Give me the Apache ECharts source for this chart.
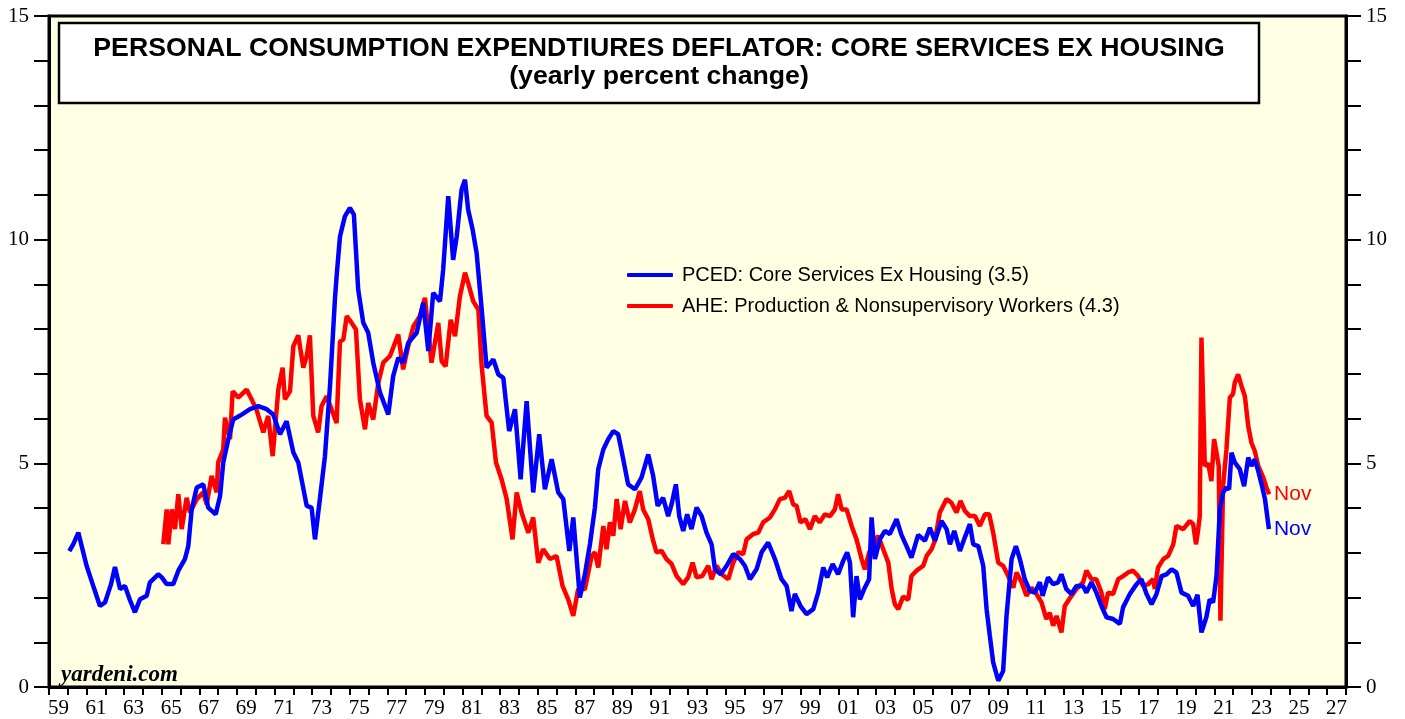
<!DOCTYPE html>
<html>
<head>
<meta charset="utf-8">
<title>PCED core services ex housing</title>
<script src="https://cdn.jsdelivr.net/npm/echarts@6/dist/echarts.min.js"></script>
<style>
  html, body { margin: 0; padding: 0; background: #fff; }
  #chart { width: 1405px; height: 719px; }
</style>
</head>
<body>
<div id="chart"></div>
<script>
// PCED: core services ex housing, yearly % change
const pcedYears = [
  1960.08, 1960.3, 1960.56, 1961.0, 1961.4, 1961.71, 1961.98, 1962.3, 1962.51, 1962.78,
  1963.04, 1963.3, 1963.57, 1963.84, 1964.2, 1964.37, 1964.81, 1965.0, 1965.26, 1965.61,
  1965.88, 1966.23, 1966.41, 1966.59, 1966.86, 1967.21, 1967.47, 1967.87, 1968.1, 1968.27,
  1968.54, 1968.8, 1969.25, 1969.69, 1970.13, 1970.58, 1970.93, 1971.29, 1971.64, 1972.0,
  1972.26, 1972.71, 1972.97, 1973.15, 1973.41, 1973.68, 1973.95, 1974.21, 1974.3, 1974.48,
  1974.74, 1975.01, 1975.22, 1975.45, 1975.72, 1975.98, 1976.25, 1976.61, 1977.05, 1977.31,
  1977.58, 1977.84, 1978.11, 1978.56, 1978.91, 1979.18, 1979.44, 1979.8, 1979.97, 1980.24,
  1980.5, 1980.69, 1980.95, 1981.13, 1981.3, 1981.54, 1981.75, 1982.02, 1982.28, 1982.64,
  1982.9, 1983.17, 1983.48, 1983.79, 1984.09, 1984.41, 1984.76, 1985.08, 1985.38, 1985.74,
  1986.09, 1986.36, 1986.68, 1986.89, 1987.24, 1987.51, 1987.78, 1988.04, 1988.22, 1988.49,
  1988.75, 1989.02, 1989.28, 1989.55, 1989.81, 1990.17, 1990.52, 1990.88, 1991.14, 1991.38,
  1991.67, 1991.94, 1992.12, 1992.35, 1992.53, 1992.74, 1992.95, 1993.18, 1993.45, 1993.72,
  1993.98, 1994.25, 1994.43, 1994.74, 1995.05, 1995.4, 1995.76, 1996.02, 1996.29, 1996.64,
  1996.91, 1997.26, 1997.62, 1997.97, 1998.24, 1998.5, 1998.68, 1998.98, 1999.3, 1999.66,
  1999.92, 2000.19, 2000.4, 2000.69, 2000.98, 2001.25, 2001.46, 2001.61, 2001.78, 2001.96,
  2002.14, 2002.4, 2002.63, 2002.76, 2002.94, 2003.2, 2003.47, 2003.73, 2004.09, 2004.35,
  2004.62, 2004.88, 2005.24, 2005.6, 2005.86, 2006.13, 2006.48, 2006.75, 2006.93, 2007.16,
  2007.46, 2007.72, 2007.99, 2008.17, 2008.44, 2008.7, 2008.88, 2009.05, 2009.23, 2009.5,
  2009.76, 2009.94, 2010.21, 2010.44, 2010.65, 2010.91, 2011.18, 2011.45, 2011.71, 2011.86,
  2012.15, 2012.42, 2012.68, 2012.86, 2013.12, 2013.39, 2013.66, 2014.01, 2014.19, 2014.46,
  2014.72, 2014.99, 2015.26, 2015.61, 2015.97, 2016.14, 2016.5, 2016.86, 2017.12, 2017.39,
  2017.66, 2017.92, 2018.19, 2018.45, 2018.72, 2018.98, 2019.25, 2019.6, 2019.87, 2020.1,
  2020.31, 2020.57, 2020.75, 2020.93, 2021.11, 2021.29, 2021.46, 2021.64, 2021.78, 2021.91,
  2022.08, 2022.35, 2022.58, 2022.8, 2022.97, 2023.15, 2023.33, 2023.51, 2023.69, 2023.9
];
const pcedValues = [
  3.04, 3.2, 3.45, 2.71, 2.2, 1.81, 1.89, 2.3, 2.68, 2.19,
  2.26, 1.95, 1.67, 1.96, 2.04, 2.34, 2.52, 2.45, 2.3, 2.3,
  2.6, 2.86, 3.15, 3.97, 4.46, 4.53, 4.01, 3.86, 4.27, 5.02,
  5.54, 5.98, 6.09, 6.21, 6.28, 6.21, 6.09, 5.65, 5.94, 5.24,
  5.02, 4.05, 4.01, 3.3, 4.2, 5.16, 6.73, 8.66, 9.18, 10.07,
  10.52, 10.71, 10.56, 8.88, 8.14, 7.92, 7.25, 6.58, 6.09, 6.95,
  7.36, 7.25, 7.69, 7.92, 8.59, 7.51, 8.81, 8.62, 9.33, 10.97,
  9.55, 10.07, 11.12, 11.34, 10.67, 10.22, 9.7, 8.44, 7.14, 7.32,
  6.99, 6.91, 5.72, 6.21, 4.64, 6.39, 4.35, 5.65, 4.42, 5.09,
  4.35, 4.2, 3.04, 3.79, 2.0, 2.52, 3.2, 4.0, 4.87, 5.31,
  5.54, 5.72, 5.65, 5.09, 4.53, 4.42, 4.68, 5.2, 4.72, 4.05,
  4.23, 3.82, 4.08, 4.53, 3.82, 3.49, 3.86, 3.53, 4.01, 3.82,
  3.45, 3.19, 2.63, 2.52, 2.71, 2.97, 2.86, 2.71, 2.41, 2.63,
  3.01, 3.23, 2.86, 2.41, 2.26, 1.7, 2.08, 1.81, 1.63, 1.74,
  2.11, 2.67, 2.45, 2.75, 2.52, 2.82, 3.01, 2.78, 1.56, 2.48,
  1.96, 2.22, 2.41, 3.79, 2.86, 3.3, 3.49, 3.42, 3.75, 3.4,
  3.15, 2.89, 3.4, 3.27, 3.56, 3.27, 3.71, 3.53, 3.19, 3.49,
  3.04, 3.34, 3.64, 3.19, 3.15, 2.71, 1.74, 1.15, 0.55, 0.14,
  0.36, 1.59, 2.86, 3.15, 2.86, 2.41, 2.15, 2.11, 2.34, 2.04,
  2.45, 2.3, 2.34, 2.52, 2.19, 2.08, 2.26, 2.26, 2.11, 2.34,
  2.11, 1.81, 1.56, 1.52, 1.41, 1.78, 2.08, 2.3, 2.41, 2.08,
  1.85, 2.08, 2.48, 2.52, 2.63, 2.56, 2.11, 2.04, 1.81, 2.06,
  1.22, 1.56, 1.96, 1.89, 2.48, 3.97, 4.35, 4.46, 4.42, 5.24,
  5.02, 4.87, 4.49, 5.13, 4.94, 5.09, 4.83, 4.53, 4.2, 3.53
];

// AHE: production & nonsupervisory workers, yearly % change
const aheYears = [
  1965.08, 1965.26, 1965.35, 1965.53, 1965.7, 1965.88, 1966.06, 1966.32, 1966.5, 1966.86,
  1967.21, 1967.39, 1967.65, 1967.92, 1968.0, 1968.27, 1968.36, 1968.63, 1968.77, 1969.07,
  1969.51, 1969.78, 1970.04, 1970.4, 1970.66, 1970.9, 1971.2, 1971.43, 1971.55, 1971.82,
  1972.0, 1972.26, 1972.53, 1972.71, 1972.88, 1973.06, 1973.32, 1973.5, 1973.77, 1974.04,
  1974.3, 1974.48, 1974.66, 1974.84, 1975.1, 1975.33, 1975.54, 1975.81, 1975.98, 1976.25,
  1976.52, 1976.78, 1977.14, 1977.58, 1977.84, 1978.11, 1978.38, 1978.73, 1979.0, 1979.35,
  1979.71, 1979.89, 1980.1, 1980.37, 1980.6, 1980.86, 1981.13, 1981.3, 1981.57, 1981.84,
  1982.02, 1982.28, 1982.55, 1982.78, 1983.08, 1983.35, 1983.66, 1983.88, 1984.14, 1984.5,
  1984.76, 1985.03, 1985.29, 1985.65, 1986.0, 1986.32, 1986.62, 1986.89, 1987.15, 1987.51,
  1987.87, 1988.04, 1988.22, 1988.49, 1988.66, 1988.84, 1989.02, 1989.2, 1989.41, 1989.64,
  1989.9, 1990.17, 1990.43, 1990.61, 1990.88, 1991.14, 1991.32, 1991.59, 1991.85, 1992.12,
  1992.39, 1992.74, 1993.0, 1993.24, 1993.45, 1993.75, 1994.07, 1994.25, 1994.51, 1994.78,
  1995.14, 1995.4, 1995.67, 1995.93, 1996.11, 1996.47, 1996.73, 1996.99, 1997.35, 1997.62,
  1997.88, 1998.15, 1998.38, 1998.59, 1998.77, 1998.98, 1999.24, 1999.48, 1999.74, 2000.0,
  2000.28, 2000.55, 2000.81, 2000.98, 2001.17, 2001.43, 2001.7, 2001.96, 2002.23, 2002.4,
  2002.63, 2002.94, 2003.11, 2003.38, 2003.65, 2003.83, 2004.0, 2004.18, 2004.44, 2004.71,
  2004.88, 2005.15, 2005.51, 2005.69, 2005.95, 2006.13, 2006.39, 2006.75, 2007.01, 2007.28,
  2007.49, 2007.72, 2007.99, 2008.26, 2008.52, 2008.79, 2009.02, 2009.23, 2009.5, 2009.76,
  2010.03, 2010.3, 2010.47, 2010.74, 2011.0, 2011.27, 2011.53, 2011.8, 2012.06, 2012.24,
  2012.42, 2012.6, 2012.86, 2013.04, 2013.3, 2013.66, 2014.01, 2014.19, 2014.46, 2014.72,
  2014.99, 2015.17, 2015.34, 2015.61, 2015.88, 2016.14, 2016.41, 2016.67, 2016.94, 2017.21,
  2017.48, 2017.74, 2017.83, 2018.0, 2018.28, 2018.54, 2018.81, 2018.98, 2019.34, 2019.69,
  2019.87, 2020.02, 2020.14, 2020.22, 2020.31, 2020.49, 2020.67, 2020.84, 2020.98, 2021.11,
  2021.23, 2021.32, 2021.46, 2021.64, 2021.82, 2021.99, 2022.08, 2022.26, 2022.44, 2022.62,
  2022.8, 2022.97, 2023.15, 2023.33, 2023.6, 2023.77, 2023.91
];
const aheValues = [
  3.19, 3.97, 3.19, 3.97, 3.53, 4.31, 3.53, 4.23, 3.9, 4.2,
  4.35, 4.08, 4.72, 4.35, 5.02, 5.31, 6.02, 5.54, 6.61, 6.47,
  6.65, 6.43, 6.2, 5.69, 6.06, 5.16, 6.65, 7.14, 6.43, 6.61,
  7.62, 7.86, 7.14, 7.4, 7.86, 6.06, 5.69, 6.28, 6.5, 6.2,
  5.9, 7.72, 7.77, 8.29, 8.14, 7.99, 6.43, 5.76, 6.35, 5.98,
  6.8, 7.25, 7.4, 7.88, 7.1, 7.62, 8.06, 8.29, 8.7, 7.25,
  8.14, 7.28, 7.17, 8.21, 7.84, 8.73, 9.26, 9.03, 8.62, 8.44,
  7.17, 6.06, 5.91, 5.02, 4.64, 4.2, 3.3, 4.35, 3.9, 3.45,
  3.79, 2.78, 3.08, 2.86, 2.93, 2.26, 1.96, 1.59, 2.19, 2.19,
  2.93, 3.01, 2.67, 3.6, 3.08, 3.68, 3.38, 4.2, 3.53, 4.16,
  3.68, 3.97, 4.38, 3.97, 3.75, 3.27, 3.01, 3.04, 2.86, 2.75,
  2.48, 2.3, 2.45, 2.78, 2.45, 2.48, 2.71, 2.41, 2.71, 2.52,
  2.41, 2.78, 3.01, 2.97, 3.3, 3.42, 3.45, 3.68, 3.79, 3.97,
  4.2, 4.23, 4.38, 4.08, 4.05, 3.68, 3.75, 3.53, 3.82, 3.68,
  3.86, 3.82, 3.97, 4.31, 3.97, 3.97, 3.6, 3.3, 2.86, 2.63,
  3.01, 3.23, 3.38, 3.08, 2.78, 2.19, 1.85, 1.74, 2.02, 1.95,
  2.48, 2.6, 2.71, 2.93, 3.08, 3.27, 3.9, 4.2, 4.12, 3.9,
  4.16, 3.94, 3.82, 3.82, 3.6, 3.86, 3.86, 3.45, 2.78, 2.71,
  2.48, 2.22, 2.56, 2.34, 2.04, 2.22, 2.08, 1.89, 1.52, 1.66,
  1.37, 1.59, 1.22, 1.81, 1.98, 2.19, 2.34, 2.6, 2.41, 2.41,
  2.11, 1.74, 2.11, 2.08, 2.41, 2.48, 2.56, 2.6, 2.48, 2.26,
  2.3, 2.41, 2.19, 2.67, 2.86, 2.93, 3.19, 3.6, 3.53, 3.71,
  3.64, 3.19, 3.53, 3.82, 7.81, 4.94, 5.0, 4.6, 5.54, 5.24,
  4.94, 1.48, 4.49, 5.31, 6.47, 6.55, 6.8, 6.99, 6.73, 6.5,
  5.83, 5.46, 5.27, 4.94, 4.68, 4.46, 4.31
];

// one category per year, 1959..2027; every other one gets a label
const yearLabels = [
  '59', '60', '61', '62', '63', '64', '65', '66', '67', '68', '69', '70', '71', '72', '73',
  '74', '75', '76', '77', '78', '79', '80', '81', '82', '83', '84', '85', '86', '87', '88',
  '89', '90', '91', '92', '93', '94', '95', '96', '97', '98', '99', '00', '01', '02', '03',
  '04', '05', '06', '07', '08', '09', '10', '11', '12', '13', '14', '15', '16', '17', '18',
  '19', '20', '21', '22', '23', '24', '25', '26', '27'
];
const yLabelValues = [0, 5, 10, 15];

const pcedName = 'PCED: Core Services Ex Housing (3.5)';
const aheName = 'AHE: Production & Nonsupervisory Workers (4.3)';
const lastMonth = 'Nov';

const zip = (xs, ys) => xs.map((x, i) => [x, ys[i]]);

const serif = '"Liberation Serif", "Times New Roman", serif';
const sans = '"Liberation Sans", Arial, sans-serif';

const yAxisCommon = {
  type: 'value',
  min: 0,
  max: 15,
  interval: 1,
  axisLine: { show: true, lineStyle: { color: '#000', width: 3 } },
  axisTick: { show: true, inside: false, length: 15, lineStyle: { color: '#000', width: 2 } },
  axisLabel: {
    color: '#000',
    fontFamily: serif,
    fontSize: 21,
    margin: 20,
    formatter: v => (yLabelValues.includes(v) ? String(v) : '')
  },
  splitLine: { show: false }
};

const chart = echarts.init(document.getElementById('chart'));

chart.setOption({
  animation: false,
  backgroundColor: '#fff',
  grid: {
    left: 49,
    right: 59,
    top: 16,
    bottom: 31,
    show: true,
    backgroundColor: '#ffffe3',
    borderColor: '#000',
    borderWidth: 3
  },
  legend: {
    orient: 'vertical',
    left: 622,
    top: 260,
    itemWidth: 46,
    itemHeight: 4,
    itemGap: 11,
    icon: 'roundRect',
    data: [pcedName, aheName],
    textStyle: { color: '#000', fontFamily: sans, fontSize: 20, padding: [0, 0, 0, 4] }
  },
  xAxis: [
    {
      type: 'value',
      min: 1959,
      max: 2028,
      show: false
    },
    {
      type: 'category',
      data: yearLabels,
      boundaryGap: true,
      position: 'bottom',
      axisLine: { show: true, lineStyle: { color: '#000', width: 3 } },
      axisTick: { show: true, interval: 0, length: 8, lineStyle: { color: '#000', width: 2 } },
      axisLabel: { interval: 1, color: '#000', fontFamily: serif, fontSize: 21, margin: 11 },
      splitLine: { show: false }
    }
  ],
  yAxis: [
    Object.assign({ position: 'left' }, yAxisCommon),
    Object.assign({ position: 'right' }, yAxisCommon)
  ],
  series: [
    {
      name: aheName,
      type: 'line',
      xAxisIndex: 0,
      yAxisIndex: 0,
      data: zip(aheYears, aheValues),
      showSymbol: false,
      color: '#ff0000',
      lineStyle: { width: 4.5, color: '#ff0000' },
      endLabel: { show: true, formatter: lastMonth, color: '#ff0000', fontFamily: sans, fontSize: 21, distance: 5 }
    },
    {
      name: pcedName,
      type: 'line',
      xAxisIndex: 0,
      yAxisIndex: 0,
      data: zip(pcedYears, pcedValues),
      showSymbol: false,
      color: '#0000ff',
      lineStyle: { width: 4.5, color: '#0000ff' },
      endLabel: { show: true, formatter: lastMonth, color: '#0000ff', fontFamily: sans, fontSize: 21, distance: 5 }
    }
  ],
  graphic: [
    {
      type: 'rect',
      shape: { x: 59, y: 23, width: 1200, height: 80 },
      style: { fill: '#fff', stroke: '#000', lineWidth: 2.5 },
      z: 10
    },
    {
      type: 'text',
      x: 659,
      y: 49,
      style: {
        text: 'PERSONAL CONSUMPTION EXPENDTIURES DEFLATOR: CORE SERVICES EX HOUSING',
        font: 'bold 26.7px ' + sans,
        fill: '#000',
        align: 'center',
        verticalAlign: 'middle'
      },
      z: 11
    },
    {
      type: 'text',
      x: 659,
      y: 77,
      style: {
        text: '(yearly percent change)',
        font: 'bold 26.7px ' + sans,
        fill: '#000',
        align: 'center',
        verticalAlign: 'middle'
      },
      z: 11
    },
    {
      type: 'text',
      x: 61,
      y: 675,
      style: {
        text: 'yardeni.com',
        font: 'italic bold 23px ' + serif,
        fill: '#000',
        align: 'left',
        verticalAlign: 'middle'
      },
      z: 11
    }
  ]
});
</script>
</body>
</html>
